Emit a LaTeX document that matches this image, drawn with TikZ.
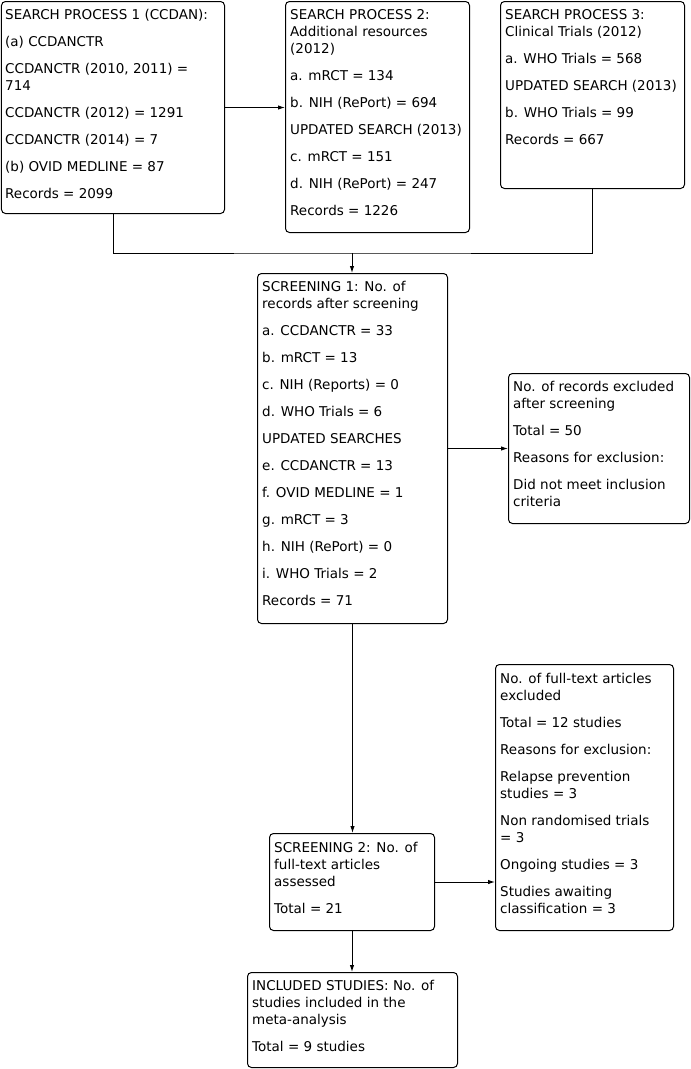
\documentclass[tikz,border=0pt]{standalone}
\usepackage{fontspec}
\setmainfont{DejaVu Sans}
\usetikzlibrary{arrows.meta}
\newcommand\btext[1]{\parbox[t]{240bp}{\setlength{\parskip}{10bp}\setlength{\parindent}{0pt}#1}}
\begin{document}
\begin{tikzpicture}[x=1bp,y=-1bp,
  box/.style={draw, line width=1bp, rounded corners=4bp, anchor=north west, inner sep=0pt},
  txt/.style={anchor=base west, inner sep=0pt, font=\fontsize{13.5bp}{17bp}\selectfont},
  conn/.style={line width=1bp},
  arr/.style={line width=1bp, -{Latex[length=7bp,width=4.5bp]}}]
\useasboundingbox (0,0) rectangle (691,1069);
% boxes
\node[box, minimum width=223bp, minimum height=212bp] (b1) at (1,1) {};
\node[box, minimum width=184bp, minimum height=231bp] (b2) at (285,1) {};
\node[box, minimum width=184bp, minimum height=187bp] (b3) at (500,1) {};
\node[box, minimum width=190bp, minimum height=350bp] (s1) at (257,273) {};
\node[box, minimum width=181bp, minimum height=150bp] (e1) at (508,373) {};
\node[box, minimum width=165bp, minimum height=97bp] (s2) at (269,833) {};
\node[box, minimum width=178bp, minimum height=266bp] (e2) at (495,664) {};
\node[box, minimum width=210bp, minimum height=95bp] (inc) at (247,972) {};
% texts
\node[txt] (b1t) at (5,19) {\btext{SEARCH PROCESS 1 (CCDAN):\par
(a) CCDANCTR\par
CCDANCTR (2010, 2011) =\newline 714\par
CCDANCTR (2012) = 1291\par
CCDANCTR (2014) = 7\par
(b) OVID MEDLINE = 87\par
Records = 2099}};
\node[txt] (b2t) at (290,19) {\btext{SEARCH PROCESS 2:\newline Additional resources\newline (2012)\par
a. mRCT = 134\par
b. NIH (RePort) = 694\par
UPDATED SEARCH (2013)\par
c. mRCT = 151\par
d. NIH (RePort) = 247\par
Records = 1226}};
\node[txt] (b3t) at (505,19) {\btext{SEARCH PROCESS 3:\newline Clinical Trials (2012)\par
a. WHO Trials = 568\par
UPDATED SEARCH (2013)\par
b. WHO Trials = 99\par
Records = 667}};
\node[txt] (s1t) at (262,291) {\btext{SCREENING 1: No. of\newline records after screening\par
a. CCDANCTR = 33\par
b. mRCT = 13\par
c. NIH (Reports) = 0\par
d. WHO Trials = 6\par
UPDATED SEARCHES\par
e. CCDANCTR = 13\par
f. OVID MEDLINE = 1\par
g. mRCT = 3\par
h. NIH (RePort) = 0\par
i. WHO Trials = 2\par
Records = 71}};
\node[txt] (e1t) at (513,391) {\btext{No. of records excluded\newline after screening\par
Total = 50\par
Reasons for exclusion:\par
Did not meet inclusion\newline criteria}};
\node[txt] (s2t) at (274,852) {\btext{SCREENING 2: No. of\newline full-text articles\newline assessed\par
Total = 21}};
\node[txt] (e2t) at (500,683) {\btext{No. of full-text articles\newline excluded\par
Total = 12 studies\par
Reasons for exclusion:\par
Relapse prevention\newline studies = 3\par
Non randomised trials\newline = 3\par
Ongoing studies = 3\par
Studies awaiting\newline classification = 3}};
\node[txt] (inct) at (252,990) {\btext{INCLUDED STUDIES: No. of\newline studies included in the\newline meta-analysis\par
Total = 9 studies}};
% connectors
\coordinate (j) at (352,253);
\draw[arr] (b1.east) -- (b1.east -| b2.west);
\draw[conn] (b1.south) |- (j) -| (b3.south);
\draw[arr] (j) -- (j |- s1.north);
\draw[arr] (s1.east) -- (s1.east -| e1.west);
\draw[arr] (s1.south) -- (s1.south |- s2.north);
\draw[arr] (s2.east) -- (s2.east -| e2.west);
\draw[arr] (s2.south) -- (s2.south |- inc.north);
\end{tikzpicture}
\end{document}
